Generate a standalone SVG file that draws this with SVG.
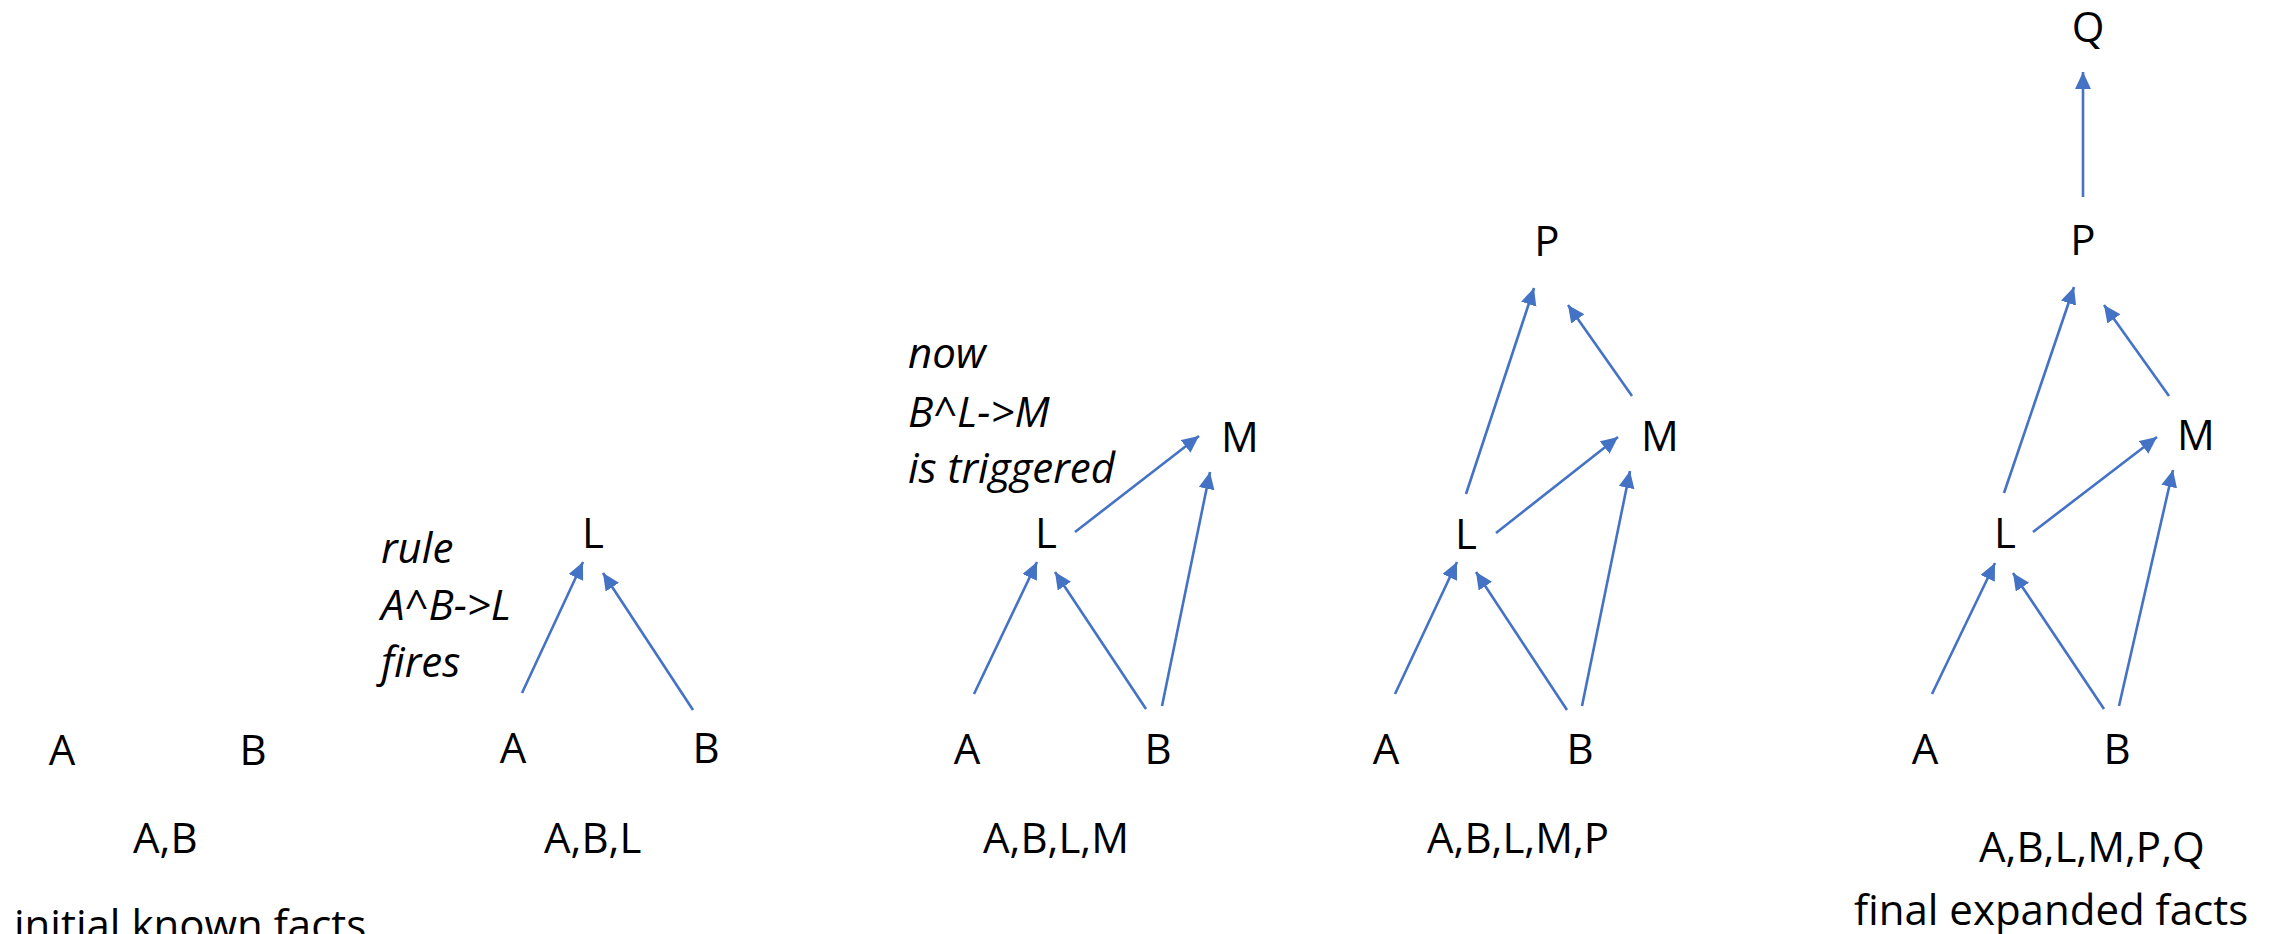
<svg xmlns="http://www.w3.org/2000/svg" width="2269" height="934" viewBox="0 0 2269 934">
<style>
text{font-family:"Open Sans","Liberation Sans",sans-serif;font-size:42px;fill:#000}
.n{text-anchor:middle}
.i{font-style:italic}
.c line{stroke:#4472C4;stroke-width:2.6;fill:none;marker-end:url(#ah)}
</style>
<defs>
<marker id="ah" markerUnits="userSpaceOnUse" markerWidth="18" markerHeight="17" refX="17" refY="8" orient="auto" viewBox="0 0 18 17">
<path d="M0,0 L17,8 L0,16 z" fill="#4472C4"/>
</marker>
</defs>
<rect width="2269" height="934" fill="#fff"/>
<g id="connectors" class="c">
<line x1="522" y1="693" x2="583" y2="562"/>
<line x1="693" y1="710" x2="603" y2="573"/>
<line x1="974" y1="694" x2="1037" y2="562"/>
<line x1="1146" y1="709" x2="1055" y2="572"/>
<line x1="1162" y1="706" x2="1210" y2="472"/>
<line x1="1075" y1="532" x2="1199" y2="436"/>
<line x1="1395" y1="694" x2="1457" y2="562"/>
<line x1="1567" y1="710" x2="1476" y2="572"/>
<line x1="1582" y1="706" x2="1630" y2="471"/>
<line x1="1496" y1="533" x2="1618" y2="437"/>
<line x1="1466" y1="494" x2="1534" y2="288"/>
<line x1="1632" y1="396" x2="1568" y2="305"/>
<line x1="2083" y1="197" x2="2083" y2="72"/>
<line x1="2004" y1="493" x2="2074" y2="287"/>
<line x1="2169" y1="396" x2="2104" y2="305"/>
<line x1="2033" y1="532" x2="2157" y2="437"/>
<line x1="2119" y1="706" x2="2173" y2="470"/>
<line x1="1932" y1="694" x2="1995" y2="563"/>
<line x1="2104" y1="709" x2="2013" y2="573"/>
</g>
<g id="panel1">
<g id="p1-A"><text class="n" x="62" y="765">A</text></g>
<g id="p1-B"><text class="n" x="253" y="765">B</text></g>
<text x="133" y="853">A,B</text>
<text x="14" y="940">initial known facts</text>
</g>
<g id="panel2">
<g id="p2-A"><text class="n" x="513" y="763">A</text></g>
<g id="p2-B"><text class="n" x="706" y="763">B</text></g>
<g id="p2-L"><text class="n" x="593" y="548">L</text></g>
<text x="544" y="853">A,B,L</text>
<text class="i" x="381" y="563">rule</text>
<text class="i" x="381" y="620">A^B-&gt;L</text>
<text class="i" x="381" y="677">fires</text>
</g>
<g id="panel3">
<g id="p3-A"><text class="n" x="967" y="764">A</text></g>
<g id="p3-B"><text class="n" x="1158" y="764">B</text></g>
<g id="p3-L"><text class="n" x="1046" y="548">L</text></g>
<g id="p3-M"><text class="n" x="1240" y="452">M</text></g>
<text x="983" y="853">A,B,L,M</text>
<text class="i" x="908" y="368">now</text>
<text class="i" x="908" y="427">B^L-&gt;M</text>
<text class="i" x="908" y="483">is triggered</text>
</g>
<g id="panel4">
<g id="p4-A"><text class="n" x="1386" y="764">A</text></g>
<g id="p4-B"><text class="n" x="1580" y="764">B</text></g>
<g id="p4-L"><text class="n" x="1466" y="549">L</text></g>
<g id="p4-M"><text class="n" x="1660" y="451">M</text></g>
<g id="p4-P"><text class="n" x="1547" y="256">P</text></g>
<text x="1427" y="853">A,B,L,M,P</text>
</g>
<g id="panel5">
<g id="p5-A"><text class="n" x="1925" y="764">A</text></g>
<g id="p5-B"><text class="n" x="2117" y="764">B</text></g>
<g id="p5-L"><text class="n" x="2005" y="548">L</text></g>
<g id="p5-M"><text class="n" x="2196" y="450">M</text></g>
<g id="p5-P"><text class="n" x="2083" y="255">P</text></g>
<g id="p5-Q"><text class="n" x="2088" y="42">Q</text></g>
<text x="1979" y="862">A,B,L,M,P,Q</text>
<text x="1854" y="925">final expanded facts</text>
</g>
</svg>
